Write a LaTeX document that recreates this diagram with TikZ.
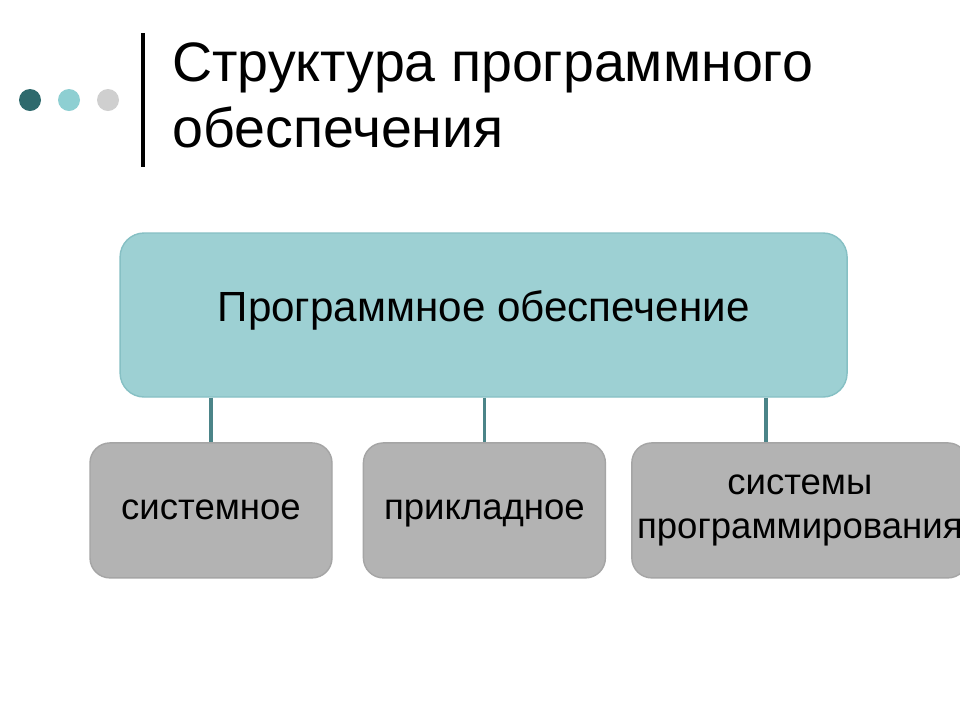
\documentclass[tikz,border=0pt]{standalone}
\usepackage{fontspec}
\setmainfont{Liberation Sans}
\usepackage{tikz}
\usetikzlibrary{positioning}
\definecolor{dotdark}{HTML}{2E6A6D}
\definecolor{dotlight}{HTML}{8ECFD2}
\definecolor{dotgray}{HTML}{CFCFCF}
\definecolor{topfill}{HTML}{9DD0D3}
\definecolor{topline}{HTML}{86C0C4}
\definecolor{linkcol}{HTML}{4B8488}
\definecolor{subfill}{HTML}{B3B3B3}
\definecolor{subline}{HTML}{A5A5A5}
\tikzset{%
  dot/.style = {circle,inner sep=0pt,minimum size=0.55cm},
  topbox/.style = {rectangle,rounded corners=0.6cm,draw=topline,line width=1pt,
        fill=topfill,minimum width=18.175cm,minimum height=4.1cm,
        text height=0.76cm,text depth=0.45cm,
        font=\fontsize{30}{36}\selectfont},
  subbox/.style = {rectangle,rounded corners=0.5cm,draw=subline,line width=1pt,
        fill=subfill,minimum width=6.05cm,minimum height=3.375cm,align=center,
        font=\fontsize{26}{31}\selectfont},
  oneline/.style = {text height=13.5pt,text depth=0pt},
  link/.style = {draw=linkcol,line width=2.5pt}
}

\begin{document}
\begin{tikzpicture}
\useasboundingbox (0,0) rectangle (24,-18);
\clip (0,0) rectangle (24,-18);
\fill[white] (0,0) rectangle (24,-18);
% dots and bar
\node[dot,fill=dotdark]  (d1) at (0.75,-2.5) {};
\node[dot,fill=dotlight] (d2) at (1.725,-2.5) {};
\node[dot,fill=dotgray]  (d3) at (2.7,-2.5) {};
\draw[line width=3pt] (3.575,-0.825) -- (3.575,-4.175);
\node[anchor=north west,align=left,inner sep=0pt,
      font=\fontsize{39.5}{47}\selectfont] (title) at (4.3,-1.07)
      {Структура программного\\обеспечения};
% main box
\node[topbox] (po) at (12.09,-7.875) {Программное обеспечение};
\node[subbox,oneline] (sys) at (5.275,-12.76) {системное};
\node[subbox,oneline,right=0.75cm of sys] (app) {прикладное};
\node[subbox,minimum width=8.4cm,right=0.625cm of app] (prog)
      {системы\\программирования};
\coordinate (k3) at (19.15,-10);
\draw[link] (po.south -| sys.north) -- (sys.north);
\draw[link] (po.south -| app.north) -- (app.north);
\draw[link] (po.south -| k3) -- (prog.north -| k3);
\end{tikzpicture}
\end{document}
